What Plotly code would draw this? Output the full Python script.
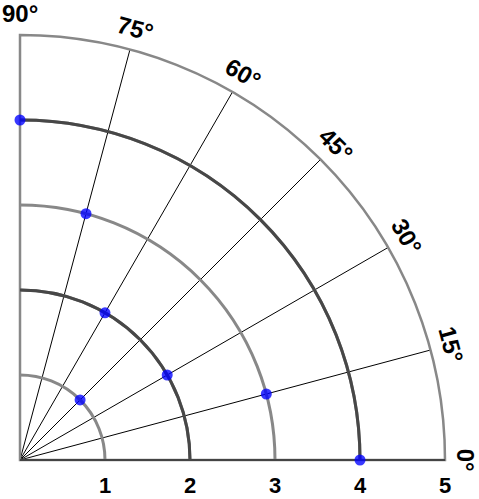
import plotly.graph_objects as go
import math

# Data
point_r = [4, 3, 2, 1, 2, 3, 4]
point_theta = [0, 15, 30, 45, 60, 75, 90]
angle_ticks = [0, 15, 30, 45, 60, 75, 90]
angle_labels = ["0°", "15°", "30°", "45°", "60°", "75°", "90°"]
radial_ticks = [1, 2, 3, 4, 5]
radial_labels = ["1", "2", "3", "4", "5"]
dark_rings = [2, 4]
r_max = 5

FONT = "Liberation Sans, Arial, sans-serif"

fig = go.Figure()

# invisible trace to create base polar
fig.add_trace(go.Scatterpolar(r=[], theta=[], subplot="polar", showlegend=False))

# points on overlay polar
fig.add_trace(go.Scatterpolar(
    r=point_r, theta=point_theta, mode="markers", subplot="polar2",
    marker=dict(size=11, color="rgba(0,0,255,0.78)", line=dict(width=0)),
    showlegend=False, cliponaxis=False,
))

common_domain = dict(x=[0, 1], y=[0, 1])

fig.update_layout(
    width=479, height=499,
    margin=dict(l=20, r=34, t=35, b=39, autoexpand=False),
    paper_bgcolor="white",
    font=dict(family=FONT, color="black"),
    polar=dict(
        domain=common_domain,
        sector=[0, 90],
        bgcolor="white",
        radialaxis=dict(
            range=[0, r_max], angle=0, side="clockwise",
            tickvals=radial_ticks, ticktext=[f"<b>{t}</b>" for t in radial_labels],
            tickfont=dict(size=22, family=FONT, color="black"),
            ticks="outside", ticklen=6, tickcolor="rgba(0,0,0,0)",
            showgrid=True, gridcolor="#888888", gridwidth=2.5,
            showline=True, linecolor="black", linewidth=1,
        ),
        angularaxis=dict(
            tickvals=angle_ticks, showticklabels=False, ticks="",
            showgrid=True, gridcolor="black", gridwidth=1,
            showline=True, linecolor="#888888", linewidth=2.5,
            direction="counterclockwise", rotation=0,
        ),
    ),
    polar2=dict(
        domain=common_domain,
        sector=[0, 90],
        bgcolor="rgba(0,0,0,0)",
        radialaxis=dict(
            range=[0, r_max], angle=0,
            tickvals=dark_rings, showticklabels=False, ticks="",
            showgrid=True, gridcolor="#474747", gridwidth=2.5,
            showline=False,
        ),
        angularaxis=dict(
            tickvals=angle_ticks, showticklabels=False, ticks="",
            showgrid=False, showline=False,
            direction="counterclockwise", rotation=0,
        ),
    ),
)

label_r = 1.05
annotations = []
for th, lab in zip(angle_ticks, angle_labels):
    a = math.radians(th)
    annotations.append(dict(
        x=label_r * math.cos(a), y=label_r * math.sin(a),
        xref="paper", yref="paper", text=f"<b>{lab}</b>",
        showarrow=False, textangle=90 - th,
        xanchor="center", yanchor="middle",
        font=dict(size=24, family=FONT, color="black"),
    ))
fig.update_layout(annotations=annotations)

fig.write_html(
    "out.html",
    config={"displayModeBar": False},
    post_script="document.body.style.margin='0';document.body.style.overflow='hidden';",
)
